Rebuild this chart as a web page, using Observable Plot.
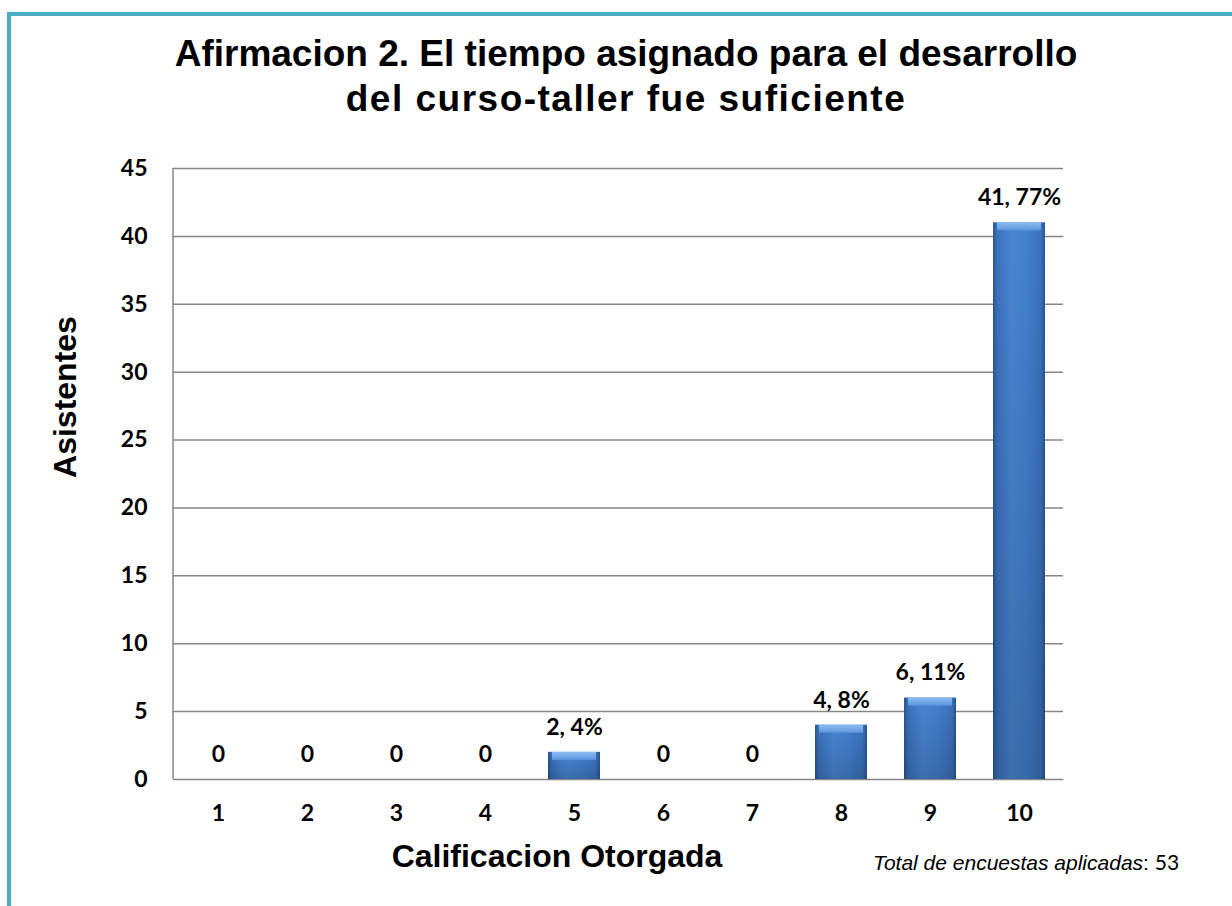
<!DOCTYPE html>
<html>
<head>
<meta charset="utf-8">
<script src="https://cdn.jsdelivr.net/npm/d3@7"></script>
<script src="https://cdn.jsdelivr.net/npm/@observablehq/plot@0.6"></script>
<style>
  html, body { margin: 0; padding: 0; background: #fff; }
  #wrap { position: relative; width: 1232px; height: 906px; overflow: hidden; background: #fff; }
  #border { position: absolute; left: 7px; top: 12px; width: 1400px; height: 1200px;
            border-left: 4px solid #4bacc6; border-top: 4px solid #4bacc6; }
  #title { position: absolute; left: 10px; top: 31px; width: 1232px; text-align: center;
           font: bold 37px "Liberation Sans", Arial, sans-serif; line-height: 45px; color: #000; }
  #title .l2 { letter-spacing: 1.5px; }
  #chart { position: absolute; left: 0; top: 0; }
  #ylab { position: absolute; left: 65px; top: 397px; transform: translate(-50%, -50%) rotate(-90deg);
          font: bold 32px "Liberation Sans", Arial, sans-serif; white-space: nowrap; color: #000; }
  #xlab { position: absolute; left: 557px; top: 856px; transform: translate(-50%, -50%);
          font: bold 32px "Liberation Sans", Arial, sans-serif; white-space: nowrap; color: #000; }
  #note { position: absolute; left: 873px; top: 862px; transform: translateY(-50%);
          font: 21px "Liberation Sans", Arial, sans-serif; white-space: nowrap; color: #000; }
  #note i { font-style: italic; }
  #note span { font-family: Lato, "Open Sans", sans-serif; }
</style>
</head>
<body>
<svg width="0" height="0" style="position:absolute">
  <defs>
    <linearGradient id="barGrad" x1="0" y1="0" x2="1" y2="0">
      <stop offset="0%" stop-color="#2a5691"/>
      <stop offset="8%" stop-color="#3a72bd"/>
      <stop offset="35%" stop-color="#4a86d3"/>
      <stop offset="65%" stop-color="#4480cd"/>
      <stop offset="92%" stop-color="#3a72bd"/>
      <stop offset="100%" stop-color="#2a5691"/>
    </linearGradient>
    <linearGradient id="shade" x1="0" y1="0" x2="0" y2="1">
      <stop offset="0%" stop-color="#000" stop-opacity="0"/>
      <stop offset="100%" stop-color="#000" stop-opacity="0.18"/>
    </linearGradient>
    <linearGradient id="bevel" x1="0" y1="0" x2="0" y2="1">
      <stop offset="0%" stop-color="#8cbcf2"/>
      <stop offset="100%" stop-color="#5d96de"/>
    </linearGradient>
  </defs>
</svg>
<div id="wrap">
  <div id="border"></div>
  <div id="title"><span class="l1">Afirmacion 2. El tiempo asignado para el desarrollo</span><br><span class="l2">del curso-taller fue suficiente</span></div>
  <div id="chart"></div>
  <div id="ylab">Asistentes</div>
  <div id="xlab">Calificacion Otorgada</div>
  <div id="note"><i>Total de encuestas aplicadas</i>: <span>53</span></div>
</div>
<script>
const categories = ["1", "2", "3", "4", "5", "6", "7", "8", "9", "10"];
const counts = [0, 0, 0, 0, 2, 0, 0, 4, 6, 41];
const valueLabels = ["0", "0", "0", "0", "2, 4%", "0", "0", "4, 8%", "6, 11%", "41, 77%"];
const yTicks = [0, 5, 10, 15, 20, 25, 30, 35, 40, 45];

const data = categories.map((c, i) => ({cat: c, v: counts[i], label: valueLabels[i]}));
const nonZero = data.filter(d => d.v > 0);

const yAxisLine = (index, scales, values, dims) => {
  const ns = "http://www.w3.org/2000/svg";
  const g = document.createElementNS(ns, "g");
  const l = document.createElementNS(ns, "line");
  const x0 = dims.marginLeft;
  l.setAttribute("x1", x0); l.setAttribute("x2", x0);
  l.setAttribute("y1", scales.y(45)); l.setAttribute("y2", scales.y(0));
  l.setAttribute("stroke", "#868686"); l.setAttribute("stroke-width", "1.5");
  g.appendChild(l);
  return g;
};

const chart = Plot.plot({
  width: 1232,
  height: 906,
  marginLeft: 173,
  marginRight: 169,
  marginTop: 168,
  marginBottom: 127,
  style: {fontFamily: "Lato, 'Open Sans', sans-serif", fontSize: "23px", fontWeight: "bold", color: "#000", background: "transparent"},
  x: {domain: categories, paddingInner: 0.42, paddingOuter: 0.21, label: null},
  y: {domain: [0, 45], label: null},
  marks: [
    Plot.gridY(yTicks, {stroke: "#868686", strokeOpacity: 1, strokeWidth: 1.5}),
    yAxisLine,
    Plot.axisX({tickSize: 0, tickPadding: 25, label: null}),
    Plot.axisY(yTicks, {tickSize: 0, tickPadding: 26, label: null}),
    Plot.barY(nonZero, {x: "cat", y: "v", fill: "url(#barGrad)"}),
    Plot.barY(nonZero, {x: "cat", y: "v", fill: "url(#shade)"}),
    Plot.barY(nonZero, {x: "cat", y1: "v", y2: "v", insetBottom: -8, insetLeft: 4, insetRight: 4, fill: "url(#bevel)"}),
    Plot.text(data, {x: "cat", y: "v", text: "label", dy: -25, lineAnchor: "middle", fill: "#000"})
  ]
});
document.getElementById("chart").appendChild(chart);
</script>
</body>
</html>
